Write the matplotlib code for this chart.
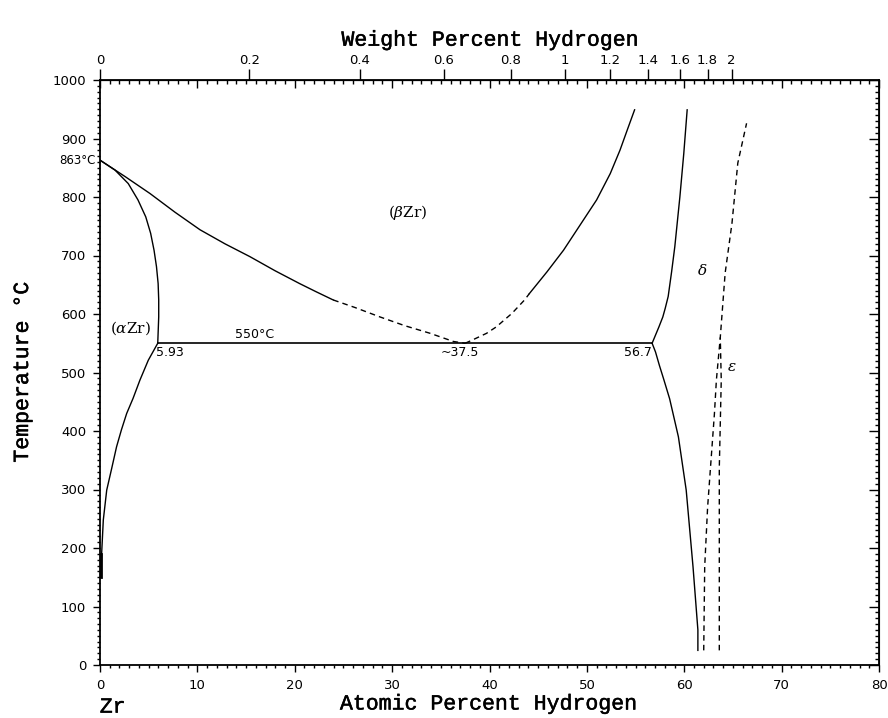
import numpy as np
import matplotlib.pyplot as plt
import matplotlib.patheffects as pe
from matplotlib.ticker import MultipleLocator

plt.rcParams["mathtext.fontset"] = "dejavuserif"

# phase boundaries (at.% H, degC)
alpha_beta_x = [0, 1.54, 2.9, 3.9, 4.7, 5.2, 5.55, 5.8, 5.97, 6.03, 6.03, 5.93]
alpha_beta_T = [863, 846, 823, 795, 766, 738, 709, 681, 652, 624, 595, 550]

alpha_low_x = [5.93, 4.96, 4.1, 3.4, 2.74, 2.2, 1.7, 1.2, 0.69, 0.34, 0.17, 0.1]
alpha_low_T = [550, 521, 487, 456, 430, 402, 373, 336, 299, 248, 191, 150]

beta_left_x = [0, 2.57, 5.13, 7.7, 10.27, 12.83, 15.4, 17.97, 20.5, 22.2, 23.95]
beta_left_T = [863, 835, 806, 774, 744, 720, 698, 674, 652, 638, 624]
beta_left_dash_x = [23.95, 26.2, 28.75, 31.3, 33.9, 36.3, 37.5]
beta_left_dash_T = [624, 611, 595, 580, 567, 553, 550]

beta_right_dash_x = [37.5, 38.3, 39.7, 40.7, 42.3, 43.6, 44.1]
beta_right_dash_T = [550, 556, 567, 578, 601, 624, 635]
beta_right_x = [44.1, 45.9, 47.6, 49.3, 51.0, 52.4, 53.4, 54.2, 54.9]
beta_right_T = [635, 672, 709, 752, 795, 840, 880, 917, 949]

delta_up_x = [56.7, 56.95, 57.4, 57.8, 58.05, 58.35, 58.7, 59.03, 59.55, 59.95, 60.3]
delta_up_T = [550, 560, 578, 595, 610, 630, 672, 715, 800, 874, 949]

delta_low_x = [56.7, 57.05, 57.45, 57.9, 58.5, 59.4, 60.2, 60.9, 61.4, 61.4]
delta_low_T = [550, 535, 512, 488, 455, 390, 299, 168, 60, 25]

delta_eps_x = [62.0, 62.1, 62.4, 63.1, 63.3, 63.7, 64.2, 64.9, 65.5, 66.4]
delta_eps_T = [25, 168, 270, 430, 487, 560, 670, 755, 858, 926]

eps_x = [63.6, 63.6, 63.8, 63.7]
eps_T = [25, 338, 487, 560]

eutectoid_x = [5.93, 56.7]
eutectoid_T = [550, 550]

wt_ticks = [0, 0.2, 0.4, 0.6, 0.8, 1, 1.2, 1.4, 1.6, 1.8, 2]
wt_labels = ["0", "0.2", "0.4", "0.6", "0.8", "1", "1.2", "1.4", "1.6", "1.8", "2"]

M_H = 1.008
M_ZR = 91.224


def at2wt(a):
    a = np.asarray(a, dtype=float)
    return a * M_H / (a * M_H + (100 - a) * M_ZR) * 100


def wt2at(w):
    w = np.asarray(w, dtype=float)
    nh = w / M_H
    nz = (100 - w) / M_ZR
    return nh / (nh + nz) * 100


tick_font = {"family": "DejaVu Sans", "size": 9.5}
label_font = {"family": "Liberation Mono", "size": 15.5,
              "path_effects": [pe.withStroke(linewidth=0.35, foreground="black")]}
math_font = {"family": "DejaVu Serif", "size": 11}
note_font = {"family": "DejaVu Sans", "size": 9}

fig = plt.figure(figsize=(8.88, 7.18), dpi=100)
ax = fig.add_axes([100 / 888, 53 / 718, 779 / 888, 585 / 718])

lw = 1.0
dash = (0, (4, 3))
ax.plot(alpha_beta_x, alpha_beta_T, color="black", lw=lw)
ax.plot(alpha_low_x, alpha_low_T, color="black", lw=lw)
ax.plot(beta_left_x, beta_left_T, color="black", lw=lw)
ax.plot(beta_left_dash_x, beta_left_dash_T, color="black", lw=lw, ls=dash)
ax.plot(beta_right_dash_x, beta_right_dash_T, color="black", lw=lw, ls=dash)
ax.plot(beta_right_x, beta_right_T, color="black", lw=lw)
ax.plot(delta_up_x, delta_up_T, color="black", lw=lw)
ax.plot(delta_low_x, delta_low_T, color="black", lw=lw)
ax.plot(delta_eps_x, delta_eps_T, color="black", lw=lw, ls=dash)
ax.plot(eps_x, eps_T, color="black", lw=lw, ls=dash)
ax.plot(eutectoid_x, eutectoid_T, color="black", lw=1.2)
ax.plot([0.1, 0.1], [150, 190], color="black", lw=2)

ax.set_xlim(0, 80)
ax.set_ylim(0, 1000)
for s in ax.spines.values():
    s.set_linewidth(1.3)

# bottom / left ticks outward
ax.xaxis.set_major_locator(MultipleLocator(10))
ax.xaxis.set_minor_locator(MultipleLocator(1))
ax.yaxis.set_major_locator(MultipleLocator(100))
ax.yaxis.set_minor_locator(MultipleLocator(10))
ax.tick_params(which="major", direction="out", length=5, width=1, pad=5)
ax.tick_params(which="minor", direction="out", length=2.5, width=1)
for lab in ax.get_xticklabels() + ax.get_yticklabels():
    lab.set_fontfamily(tick_font["family"])
    lab.set_fontsize(tick_font["size"])

# top at.% ticks pointing in
top_at = ax.secondary_xaxis("top")
top_at.xaxis.set_major_locator(MultipleLocator(10))
top_at.xaxis.set_minor_locator(MultipleLocator(1))
top_at.tick_params(which="major", direction="in", length=6, width=1, labeltop=False)
top_at.tick_params(which="minor", direction="in", length=3, width=1)

# top wt.% scale
top_wt = ax.secondary_xaxis("top", functions=(at2wt, wt2at))
top_wt.set_xticks(wt_ticks)
top_wt.set_xticklabels(wt_labels, fontsize=tick_font["size"],
                       fontfamily=tick_font["family"])
top_wt.xaxis.set_minor_locator(MultipleLocator(100))
top_wt.tick_params(which="major", direction="out", length=8, width=1, pad=1.5)

# right ticks pointing in
right = ax.secondary_yaxis("right")
right.yaxis.set_major_locator(MultipleLocator(100))
right.yaxis.set_minor_locator(MultipleLocator(10))
right.tick_params(which="major", direction="in", length=7, width=1, labelright=False)
right.tick_params(which="minor", direction="in", length=3, width=1)

# axis titles
ax.set_ylabel("Temperature °C", fontdict=label_font)
ax.yaxis.set_label_coords(-0.086, 0.5)
fig.text(488 / 888, 1 - 704 / 718, "Atomic Percent Hydrogen",
         ha="center", va="center", **label_font)
ax.text(0.5, 1.068, "Weight Percent Hydrogen", transform=ax.transAxes,
        ha="center", va="center", **label_font)
ax.text(1.3, -72, "Zr", ha="center", va="center", clip_on=False, **label_font)

# annotations
ax.text(-0.4, 863, "863°C", ha="right", va="center", fontsize=8.5,
        family="DejaVu Sans", clip_on=False)
ax.text(31.6, 774, r"($\beta$Zr)", ha="center", va="center", **math_font)
ax.text(3.1, 576, r"($\alpha$Zr)", ha="center", va="center", **math_font)
ax.text(15.9, 553, "550°C", ha="center", va="bottom", **note_font)
ax.text(5.8, 545, "5.93", ha="left", va="top", **note_font)
ax.text(37.0, 545, "~37.5", ha="center", va="top", **note_font)
ax.text(56.7, 545, "56.7", ha="right", va="top", **note_font)
ax.text(61.8, 675, r"$\delta$", ha="center", va="center", **math_font)
ax.text(64.9, 510, r"$\varepsilon$", ha="center", va="center", **math_font)

fig.savefig("out.png", dpi=100, facecolor="white")
